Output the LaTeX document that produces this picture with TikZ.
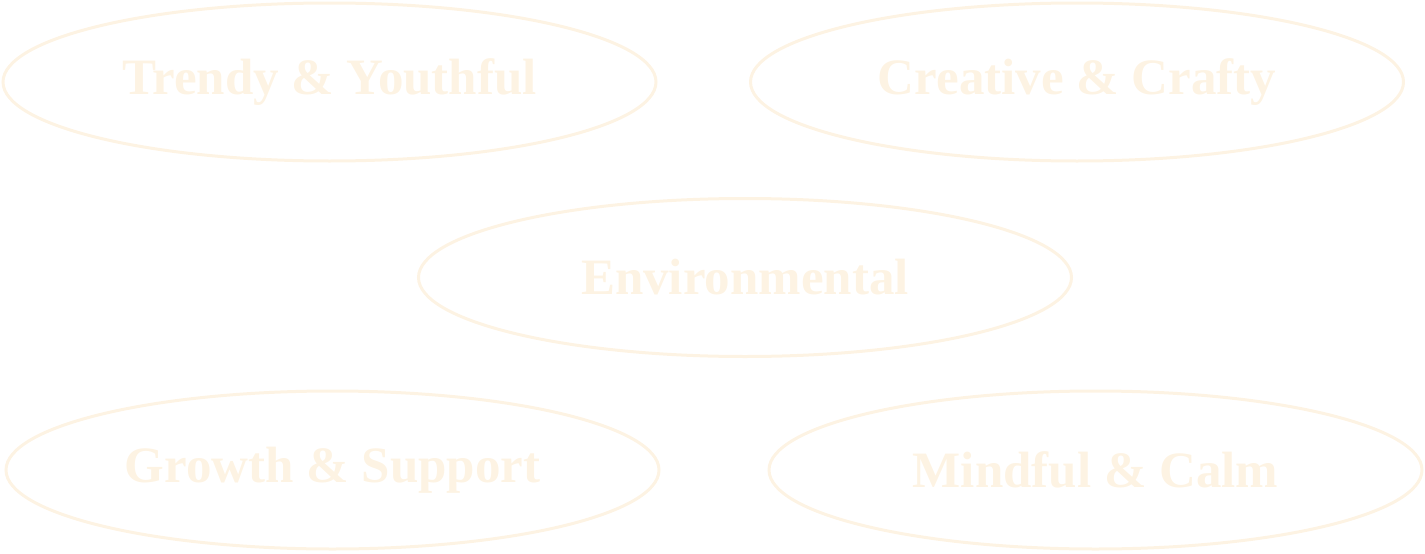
\documentclass[tikz,border=0pt]{standalone}
\usepackage{fontspec}
\setmainfont{Liberation Serif}
\usetikzlibrary{shapes.geometric}
\definecolor{cream}{HTML}{FDF3E3}

\begin{document}
\begin{tikzpicture}[x=1pt,y=-1pt,
  trait/.style={ellipse,draw=cream,line width=3pt,text=cream,
    minimum width=653pt,minimum height=158pt,inner sep=0pt,
    font=\fontsize{51}{55}\selectfont\bfseries}]
 \useasboundingbox (0,0) rectangle (1425,554);
 \node[trait] (trendy) at (329.5, 82) {Trendy \& Youthful};
 \node[trait] (crafty) at (1077, 82) {Creative \& Crafty};
 \node[trait] (enviro) at (745, 277.5) {Environmental};
 \node[trait] (growth) at (332.5, 470) {Growth \& Support};
 \node[trait] (calm)   at (1095.5, 470) {Mindful \& Calm};
\end{tikzpicture}
\end{document}
